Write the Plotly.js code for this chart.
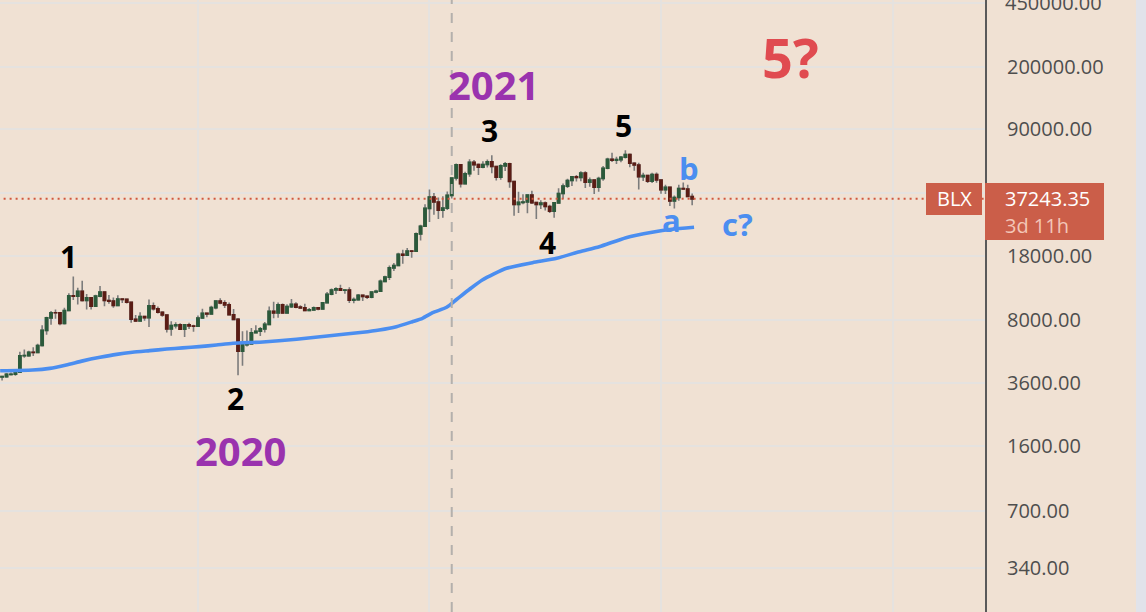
<!DOCTYPE html>
<html>
<head>
<meta charset="utf-8">
<script src="https://cdn.plot.ly/plotly-3.0.1.min.js"></script>
<style>
  html, body { margin: 0; padding: 0; background: #f0e1d3; }
  #chart { width: 1146px; height: 612px; }
</style>
</head>
<body>
<div id="chart"></div>
<script>
// ---------------- DATA (weekly candles, BLX) ----------------
const firstWeek = '2019-02-25';

const open2019  = [3830,3860,3880,3990,4000,4110,5060,5070,5290,5280,5770,6990,8190,8750,8740,7640,8990,10850,10800,11470,10230,10560,9500,10800,11380,10220,10140,9600,10400,10360,10000,8050,7870,8320,8220,9550,9200,8800,8500,7120,7420,7500,7100,7500,7390];
const high2019  = [3950,3920,4060,4090,4140,5320,5470,5390,5630,5900,7450,8320,8950,9100,8800,9330,11200,13880,12000,13150,11100,10660,11000,12300,11450,10950,10620,10920,10470,10370,10050,8500,8800,8400,10350,9950,9480,8900,8500,7850,7760,7650,7520,7690,7500];
const low2019   = [3760,3690,3830,3930,3920,4100,4940,4990,5040,5220,5700,6600,7500,8100,7450,7540,8980,10300,9700,10100,9100,9100,9400,10650,9500,9800,9320,9600,9900,9850,7700,7780,7850,7900,7300,9000,8650,8300,6800,6530,7150,7080,6430,7100,6870];
const close2019 = [3860,3880,3990,4000,4110,5060,5070,5290,5280,5770,6990,8190,8750,8740,7640,8990,10850,10800,11470,10230,10560,9500,10800,11380,10220,10140,9600,10400,10360,10000,8050,7870,8320,8220,9550,9200,8800,8500,7120,7420,7500,7100,7500,7390,7360];

const open2020  = [7360,8180,8680,8600,9330,10160,9920,9670,8530,8040,5360,5830,5880,6780,6910,7120,7540,8900,8720,9680,8720,9450,9750,9390,9300,9010,9070,9300,9170,9930,11070,11680,11850,11650,11680,10250,10330,10930,10770,10670,11380,11500,13030,13750,15480,15960,18400,18180,19150,19140,23860,26270];
const high2020  = [8450,9190,8750,9550,10190,10500,10250,9960,9180,8180,6900,6970,7200,7470,7290,7780,9480,10050,9950,9840,9740,10400,9990,9620,9800,9300,9470,9330,9970,11400,11900,12090,12470,11800,12090,10620,11100,10990,10930,11490,11720,13350,14000,15960,16490,18780,19480,19900,19420,24250,26770,34780];
const low2020   = [7350,8070,8250,8540,9150,9730,9300,8480,8000,3950,4450,5700,5860,6770,6500,6800,7500,8150,8200,8700,8650,9280,9260,9210,8940,8910,9060,9040,9150,9900,10930,11100,11560,11140,9900,9880,10200,10140,10400,10530,11200,11410,12900,13250,14850,15800,16330,18000,17600,19000,21900,26000];
const close2020 = [8180,8680,8600,9330,10160,9920,9670,8530,8040,5360,5830,5880,6780,6910,7120,7540,8900,8720,9680,8720,9450,9750,9390,9300,9010,9070,9300,9170,9930,11070,11680,11850,11650,11680,10250,10330,10930,10770,10670,11380,11500,13030,13750,15480,15960,18400,18180,19150,19140,23860,26270,33000];

const open2021  = [33000,38150,35800,32260,33100,38900,48580,57400,45140,51200,59230,57520,55780,57600,59750,56150,49000,56620,58240,46430,34700,35600,35800,39100,35500,34700,35290,33800,31780,35400,39850,43800,47050,49250,48880,51750,46060,47260,43210,48230,54980,61530,60860,61320,63270,65470,58620,57270,49400,50100,46680,50800];
const high2021  = [41950,40100,37850,38500,40950,49000,58350,58000,52600,61700,61000,58400,60000,61400,64850,56800,57900,59500,59000,46800,40800,39500,39500,41300,35800,36600,35950,34600,35500,42600,45300,48100,49400,50500,52900,52950,48850,47350,49250,56600,62900,67000,63700,64300,69000,66300,59300,59000,51900,50500,51900,52100];
const low2021   = [27700,30400,28850,29250,32300,37400,47000,43000,44950,49300,53300,50400,54900,55500,51500,47000,47500,53000,42900,30000,31100,34800,31000,34900,28800,32700,32100,31100,29300,35300,37300,42800,43900,46400,46600,42800,43400,39600,40800,46900,54200,59600,58000,59400,62300,55600,53300,42000,46800,45500,45600,45700];
const close2021 = [38150,35800,32260,33100,38900,48580,57400,45140,51200,59230,57520,55780,57600,59750,56150,49000,56620,58240,46430,34700,35600,35800,39100,35500,34700,35290,33800,31780,35400,39850,43800,47050,49250,48880,51750,46060,47260,43210,48230,54980,61530,60860,61320,63270,65470,58620,57270,49400,50100,46680,50800,47300];

const open2022  = [47300,41860,43080,36280,37900,42400,42200,38400];
const high2022  = [47550,44500,43500,38900,44500,45850,44600,39800];
const low2022   = [39700,39600,34000,32900,36300,41700,37980,34300];
const close2022 = [41860,43080,36280,37900,42400,42200,38400,37243.35];

// blue moving-average line
const maDates = ['2019-03-01','2019-04-21','2019-05-18','2019-06-13','2019-07-09','2019-08-05','2019-08-31','2019-09-25','2019-10-22','2019-11-18','2019-12-13','2020-01-08','2020-02-04','2020-03-01','2020-04-17','2020-06-09','2020-07-31','2020-09-21','2020-10-17','2020-11-13','2020-12-08','2020-12-24','2021-01-09','2021-01-31','2021-02-16','2021-03-08','2021-03-28','2021-05-05','2021-06-15','2021-07-23','2021-08-28','2021-09-28','2021-11-09','2021-12-20','2022-01-20','2022-02-24'];
const maValues = [4180,4220,4310,4500,4740,4960,5150,5290,5400,5510,5590,5680,5800,5930,6030,6240,6530,6820,7020,7320,7800,8150,8750,9370,10380,11790,13270,15400,16530,17480,19020,20260,22720,24340,25290,25940];

// price-axis ticks
const priceTicks = [340, 700, 1600, 3600, 8000, 18000, 40000, 90000, 200000, 450000];
const hiddenTick = 40000;          // covered by the last-price label
const symbol = 'BLX';
const countdown = '3d 11h';
const yearGrid = ['2020-01-06','2021-01-04','2022-01-03','2023-01-02'];
const markerDate = '2021-02-08';

// wave labels
const waveLabels = ['1','2','3','4','5'];
const yearLabels = ['2020','2021'];
const abcLabels = ['a','b','c?'];
const bigLabel = '5?';

// ---------------- BUILD ----------------
const opens  = open2019.concat(open2020, open2021, open2022);
const highs  = high2019.concat(high2020, high2021, high2022);
const lows   = low2019.concat(low2020, low2021, low2022);
const closes = close2019.concat(close2020, close2021, close2022);

const t0 = Date.parse(firstWeek + 'T00:00:00Z');
const dates = opens.map((_, i) => new Date(t0 + i * 7 * 86400000).toISOString().slice(0, 10));

const bodyTop = opens.map((o, i) => Math.max(o, closes[i]));
const bodyBot = opens.map((o, i) => Math.min(o, closes[i]));

const xRange = ['2019-02-28 18:00', '2023-05-27 10:00'];
const yRange = [2.2884, 5.6696];
const PW = 985, PH = 612;
const px = x => x / PW;
const py = y => 1 - y / PH;

const lastClose = closes[closes.length - 1];
const GREEN = '#2c5a3b', RED = '#5b1d15', WICK = '#7c7c7c';
const GRID = '#e5e2df';

const traces = [
  { // moving average
    type: 'scatter', mode: 'lines', x: maDates, y: maValues,
    line: { color: '#4b8ef0', width: 3.6, shape: 'spline', smoothing: 0.6 },
    hoverinfo: 'skip'
  },
  { // wicks
    type: 'candlestick', x: dates, open: opens, high: highs, low: lows, close: closes,
    increasing: { line: { color: WICK, width: 1.6 }, fillcolor: 'rgba(0,0,0,0)' },
    decreasing: { line: { color: WICK, width: 1.6 }, fillcolor: 'rgba(0,0,0,0)' },
    hoverinfo: 'skip'
  },
  { // bodies
    type: 'candlestick', x: dates, open: opens, high: bodyTop, low: bodyBot, close: closes,
    increasing: { line: { color: GREEN, width: 1.6 }, fillcolor: GREEN },
    decreasing: { line: { color: RED, width: 1.6 }, fillcolor: RED },
    hoverinfo: 'skip'
  },
  { // last-price dotted line
    type: 'scatter', mode: 'lines', x: [dates[0], xRange[1]], y: [lastClose, lastClose],
    line: { color: '#d0583f', width: 2, dash: '2px,4px' }, hoverinfo: 'skip'
  }
];

const font = 'Open Sans, Noto Sans, DejaVu Sans, sans-serif';
const ann = (text, x, y, size, color, extra) => Object.assign({
  text, xref: 'paper', yref: 'paper', x: px(x), y: py(y),
  xanchor: 'center', yanchor: 'middle', showarrow: false,
  font: { family: font, size, color, weight: 'bold' }
}, extra || {});

// top tick sits 3px under the frame edge; draw its label explicitly so it is not dropped
const topTick = priceTicks[priceTicks.length - 1];
const topTickY = (yRange[1] - Math.log10(topTick)) / (yRange[1] - yRange[0]) * PH;

const annotations = [
  ann(waveLabels[0], 68, 256, 30, '#000'),
  ann(waveLabels[1], 235, 398, 30, '#000'),
  ann(waveLabels[2], 489, 130, 30, '#000'),
  ann(waveLabels[3], 547, 243, 30, '#000'),
  ann(waveLabels[4], 623, 126, 30, '#000'),
  ann(yearLabels[0], 240, 450, 40, '#9a33ae'),
  ann(yearLabels[1], 493, 85, 40, '#9a33ae'),
  ann(bigLabel, 790, 57, 54, '#e04b50'),
  ann(abcLabels[0], 671, 220, 31, '#4b8ef0'),
  ann(abcLabels[1], 689, 168, 31, '#4b8ef0'),
  ann(abcLabels[2], 737, 224, 31, '#4b8ef0'),
  { text: topTick.toFixed(2), xref: 'paper', yref: 'y', x: px(1003), y: Math.log10(topTick),
    xanchor: 'left', yanchor: 'middle', showarrow: false,
    font: { family: font, size: 20, color: '#4e4e4e' } },
  // price label
  { text: lastClose.toFixed(2), xref: 'paper', yref: 'paper', x: px(1003), y: py(199),
    xanchor: 'left', yanchor: 'middle', showarrow: false,
    font: { family: font, size: 20, color: '#ffffff' } },
  { text: countdown, xref: 'paper', yref: 'paper', x: px(1003), y: py(225),
    xanchor: 'left', yanchor: 'middle', showarrow: false,
    font: { family: font, size: 20, color: '#f3c6b8' } },
  { text: symbol, xref: 'paper', yref: 'paper', x: px(954), y: py(199),
    xanchor: 'center', yanchor: 'middle', showarrow: false,
    font: { family: font, size: 20, color: '#ffffff' } }
];

const shapes = [
  { type: 'line', xref: 'paper', yref: 'paper', x0: 0, x1: 1, y0: py(topTickY), y1: py(topTickY),
    line: { color: GRID, width: 2 }, layer: 'below' },
  { type: 'line', xref: 'x', yref: 'paper', x0: markerDate, x1: markerDate, y0: 0, y1: 1,
    line: { color: '#b4b0ac', width: 2, dash: '10px,9px' }, layer: 'above' },
  { type: 'rect', xref: 'paper', yref: 'paper', x0: px(985), x1: px(1104), y0: py(240), y1: py(183),
    fillcolor: '#cb5e49', line: { width: 0 }, layer: 'above' },
  { type: 'rect', xref: 'paper', yref: 'paper', x0: px(926), x1: px(982), y0: py(215), y1: py(183),
    fillcolor: '#cb5e49', line: { width: 0 }, layer: 'above' },
  { type: 'rect', xref: 'paper', yref: 'paper', x0: px(1136), x1: px(1150), y0: 0, y1: 1,
    fillcolor: '#e1e3ea', line: { width: 0 }, layer: 'above' }
];

const layout = {
  width: 1146, height: 612,
  margin: { l: 0, r: 161, t: 0, b: 0, pad: 0 },
  paper_bgcolor: '#f0e1d3', plot_bgcolor: '#f0e1d3',
  showlegend: false,
  xaxis: {
    type: 'date', range: xRange, tickvals: yearGrid, showticklabels: false,
    showgrid: true, gridcolor: GRID, gridwidth: 2, zeroline: false, showline: false,
    rangeslider: { visible: false }, fixedrange: true
  },
  yaxis: {
    type: 'log', range: yRange, side: 'right',
    tickvals: priceTicks.slice(0, -1),
    ticktext: priceTicks.slice(0, -1).map(v => v === hiddenTick ? '' : v.toFixed(2)),
    tickfont: { family: font, size: 20, color: '#4e4e4e' },
    ticks: '', ticklabelstandoff: 16,
    showline: true, linecolor: '#5a5a5a', linewidth: 2,
    showgrid: true, gridcolor: GRID, gridwidth: 2, zeroline: false, fixedrange: true
  },
  shapes, annotations
};

Plotly.newPlot('chart', traces, layout, { staticPlot: true, displayModeBar: false });
</script>
</body>
</html>
